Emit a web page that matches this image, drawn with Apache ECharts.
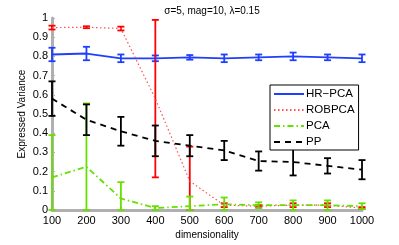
<!DOCTYPE html>
<html><head><meta charset="utf-8">
<script src="https://cdn.jsdelivr.net/npm/echarts@6/dist/echarts.min.js"></script>
<style>html,body{margin:0;padding:0;background:#fff}#c{width:399px;height:245px}</style>
</head><body><div id="c"></div>
<script>
const dims = [100,200,300,400,500,600,700,800,900,1000];
const hrMean = [0.81,0.815,0.79,0.79,0.795,0.79,0.795,0.80,0.795,0.79];
const hrErr  = [0.035,0.035,0.02,0.015,0.012,0.02,0.015,0.02,0.015,0.02];
const robMean = [0.95,0.952,0.945,0.58,0.15,0.025,0.02,0.025,0.025,0.01];
const robErr  = [0.01,0.005,0.01,0.41,0.18,0.01,0.005,0.01,0.01,0.005];
const pcaMean = [0.17,0.225,0.06,0.01,0.02,0.03,0.025,0.025,0.025,0.02];
const pcaErr  = [0.22,0.33,0.085,0.01,0.05,0.035,0.015,0.025,0.025,0.015];
const ppMean = [0.58,0.47,0.41,0.36,0.335,0.31,0.255,0.25,0.23,0.21];
const ppErr  = [0.09,0.08,0.075,0.08,0.055,0.05,0.05,0.07,0.04,0.05];
const yTicks = [0,0.1,0.2,0.3,0.4,0.5,0.6,0.7,0.8,0.9,1];
const xTicks = dims;

const FONT = 'Liberation Sans';
function pairs(m){ return dims.map((d,i)=>[d,m[i]]); }
function errData(m,e){ return dims.map((d,i)=>[d, m[i]-e[i], m[i]+e[i]]); }
function errSeries(name,m,e,color){
  return {
    type:'custom', name:name+'_err', data:errData(m,e), z:3,
    renderItem:function(params,api){
      const x=api.value(0), lo=Math.max(api.value(1),0), hi=api.value(2);
      const p1=api.coord([x,lo]), p2=api.coord([x,hi]);
      const w=3.5;
      const st={stroke:color,lineWidth:1.8};
      return {type:'group',children:[
        {type:'line',shape:{x1:p1[0],y1:p1[1],x2:p2[0],y2:p2[1]},style:st},
        {type:'line',shape:{x1:p1[0]-w,y1:p1[1],x2:p1[0]+w,y2:p1[1]},style:st},
        {type:'line',shape:{x1:p2[0]-w,y1:p2[1],x2:p2[0]+w,y2:p2[1]},style:st}
      ]};
    }
  };
}
const chart = echarts.init(document.getElementById('c'));
chart.setOption({
  animation:false,
  backgroundColor:'#fff',
  title:{text:'σ=5, mag=10, λ=0.15',left:207,top:1,textAlign:'center',
    textStyle:{fontFamily:FONT,fontSize:10,fontWeight:'normal',color:'#000'}},
  grid:{left:52,right:37,top:18,bottom:27},
  legend:{
    data:['HR−PCA','ROBPCA','PCA','PP'],
    orient:'vertical',left:270,top:85,
    itemWidth:30,itemHeight:8,itemGap:4,
    padding:[3,4,2,3],
    borderColor:'#000',borderWidth:1,backgroundColor:'#fff',
    itemStyle:{color:'transparent',borderWidth:0,opacity:0},
    textStyle:{fontFamily:FONT,fontSize:11.5,color:'#000',padding:[0,0,0,-3]},
    z:10
  },
  xAxis:{type:'value',min:100,max:1000,interval:100,
    name:'dimensionality',nameLocation:'middle',nameGap:20,nameMoveOverlap:false,
    nameTextStyle:{fontFamily:FONT,fontSize:10,color:'#000'},
    axisLine:{onZero:false,lineStyle:{color:'#b0b0b0',width:3}},
    axisTick:{show:true,inside:true,length:3,lineStyle:{color:'#b0b0b0'}},
    axisLabel:{fontFamily:FONT,fontSize:11,color:'#000',margin:5,
      formatter:v=>{const t=xTicks.find(x=>x===v);return t===undefined?'':String(t);}},
    splitLine:{show:false}},
  yAxis:{type:'value',min:0,max:1,interval:0.1,
    name:'Expressed Variance',nameLocation:'middle',nameGap:25,nameMoveOverlap:false,
    nameTextStyle:{fontFamily:FONT,fontSize:10,color:'#000'},
    axisLine:{show:true,lineStyle:{color:'#b0b0b0',width:3}},
    axisTick:{show:true,inside:true,length:3,lineStyle:{color:'#b0b0b0'}},
    axisLabel:{fontFamily:FONT,fontSize:11,color:'#000',margin:4,
      formatter:v=>{const t=yTicks.find(y=>Math.abs(y-v)<1e-9);return t===undefined?'':String(t);}},
    splitLine:{show:false}},
  series:[
    {type:'line',name:'HR−PCA',data:pairs(hrMean),symbol:'none',z:4,
      lineStyle:{color:'#1f3fff',width:1.8},itemStyle:{color:'#1f3fff'}},
    {type:'line',name:'ROBPCA',data:pairs(robMean),symbol:'none',z:4,
      lineStyle:{color:'#ff5050',width:1.2,type:[1.5,2.5]},itemStyle:{color:'#ff5050'}},
    {type:'line',name:'PCA',data:pairs(pcaMean),symbol:'none',z:4,
      lineStyle:{color:'#66e000',width:1.8,type:[6,3,1.5,3]},itemStyle:{color:'#66e000'}},
    {type:'line',name:'PP',data:pairs(ppMean),symbol:'none',z:4,
      lineStyle:{color:'#000',width:1.8,type:[6,5]},itemStyle:{color:'#000'}},
    errSeries('HR−PCA',hrMean,hrErr,'#1f3fff'),
    errSeries('ROBPCA',robMean,robErr,'#ff0000'),
    errSeries('PCA',pcaMean,pcaErr,'#66e000'),
    errSeries('PP',ppMean,ppErr,'#000')
  ]
});
</script></body></html>
